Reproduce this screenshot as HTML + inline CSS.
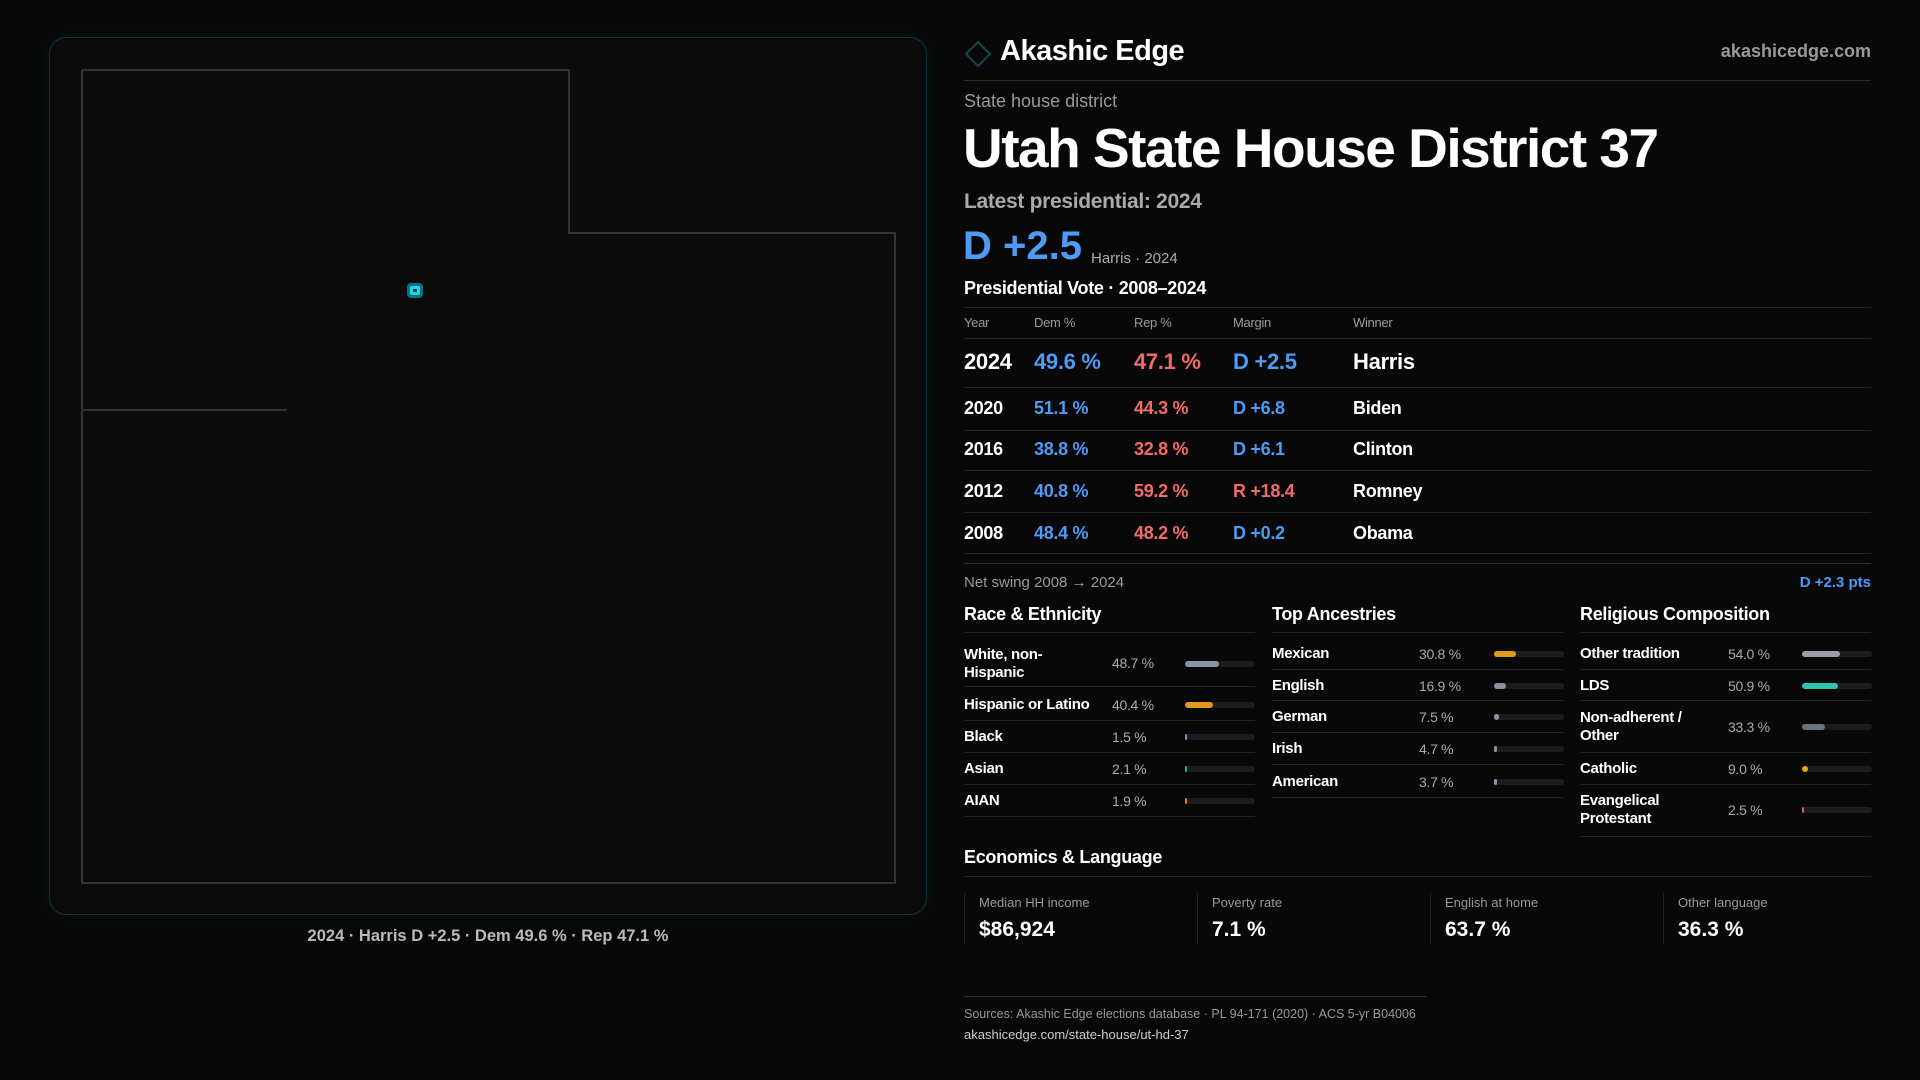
<!DOCTYPE html>
<html><head><meta charset="utf-8"><style>
*{margin:0;padding:0;box-sizing:border-box}
body{width:1920px;height:1080px;background:#080808;font-family:"Liberation Sans",sans-serif;color:#fff;position:relative;overflow:hidden}
.a{position:absolute;white-space:nowrap}
.card{position:absolute;left:49px;top:37px;width:878px;height:878px;border:1px solid #16343a;border-radius:17px;background:#0b0b0b;box-shadow:0 0 18px rgba(20,120,130,0.12)}
.hl{position:absolute;height:1px;background:#222}
.g{color:#9a9a9a}
.b{color:#4d9bf5}.r{color:#f26b6b}
.row{position:absolute;left:964px;width:907px;font-size:18px;font-weight:bold;letter-spacing:-0.3px}
.row span{position:absolute;top:0}
.lab{font-size:15px;font-weight:bold;letter-spacing:-0.3px;line-height:18px}
.val{font-size:14px;color:#aaa;letter-spacing:-0.3px}
.bar{position:absolute;height:6px;width:70px;background:#1c1c1c;border-radius:3px}
.bar i{position:absolute;left:0;top:0;height:6px;border-radius:3px;min-width:2px}
.sh{font-size:18px;font-weight:bold;letter-spacing:-0.3px}
.box{position:absolute;top:893px;height:51px;border-left:1px solid #222;padding-left:14px}
.box .l{font-size:13px;color:#999;margin-top:2px}
.box .v{font-size:21px;font-weight:bold;margin-top:8px}
</style></head><body>
<div class="card"></div>
<svg class="a" style="left:0;top:0" width="960" height="1000">
<polyline points="82,70 569,70 569,233 895,233 895,883 82,883 82,70" fill="none" stroke="#333" stroke-width="2"/>
<line x1="82" y1="410" x2="287" y2="410" stroke="#333" stroke-width="2"/>
<rect x="407" y="283" width="16" height="15" rx="4" fill="#0e6f80"/>
<rect x="410" y="286" width="10" height="9" rx="2" fill="#22d3ee"/>
<rect x="413" y="289" width="4" height="3" fill="#0b3b44"/>
</svg>
<div class="a" style="left:0;width:976px;text-align:center;top:927px;font-size:16.5px;color:#bbb;font-weight:bold">2024 · Harris D +2.5 · Dem 49.6 % · Rep 47.1 %</div>

<svg class="a" style="left:964px;top:40px" width="28" height="28"><polygon points="14,2 26,14 14,26 2,14" fill="none" stroke="#13464d" stroke-width="2"/></svg>
<div class="a" style="left:1000px;top:35px;font-size:29px;font-weight:bold;letter-spacing:-0.5px">Akashic Edge</div>
<div class="a g" style="right:49px;top:41px;font-size:18px;font-weight:bold">akashicedge.com</div>
<div class="hl" style="left:964px;width:907px;top:80px;background:#14353a"></div>
<div class="a g" style="left:964px;top:91px;font-size:18px">State house district</div>
<div class="a" style="left:963px;top:116px;font-size:55px;font-weight:bold;letter-spacing:-1.5px">Utah State House District 37</div>
<div class="a" style="left:964px;top:190px;font-size:21px;font-weight:bold;color:#aaa;letter-spacing:-0.3px">Latest presidential: 2024</div>
<div class="a b" style="left:963px;top:224px;font-size:40px;font-weight:bold">D +2.5</div>
<div class="a" style="left:1091px;top:250px;font-size:15px;color:#aaa">Harris · 2024</div>
<div class="a" style="left:964px;top:278px;font-size:18px;font-weight:bold;letter-spacing:-0.3px">Presidential Vote · 2008–2024</div>
<div class="hl" style="left:964px;width:907px;top:307px"></div>
<div class="row g" style="top:315px;font-size:13px;font-weight:normal"><span style="left:0">Year</span><span style="left:70px">Dem %</span><span style="left:170px">Rep %</span><span style="left:269px">Margin</span><span style="left:389px">Winner</span></div>
<div class="hl" style="left:964px;width:907px;top:338px"></div>
<div class="row" style="top:349px;font-size:22px"><span style="left:0">2024</span><span class="b" style="left:70px">49.6 %</span><span class="r" style="left:170px">47.1 %</span><span class="b" style="left:269px">D +2.5</span><span style="left:389px">Harris</span></div>
<div class="hl" style="left:964px;width:907px;top:387px"></div>
<div class="row" style="top:398px"><span style="left:0">2020</span><span class="b" style="left:70px">51.1 %</span><span class="r" style="left:170px">44.3 %</span><span class="b" style="left:269px">D +6.8</span><span style="left:389px">Biden</span></div>
<div class="hl" style="left:964px;width:907px;top:430px"></div>
<div class="row" style="top:439px"><span style="left:0">2016</span><span class="b" style="left:70px">38.8 %</span><span class="r" style="left:170px">32.8 %</span><span class="b" style="left:269px">D +6.1</span><span style="left:389px">Clinton</span></div>
<div class="hl" style="left:964px;width:907px;top:470px"></div>
<div class="row" style="top:481px"><span style="left:0">2012</span><span class="b" style="left:70px">40.8 %</span><span class="r" style="left:170px">59.2 %</span><span class="r" style="left:269px">R +18.4</span><span style="left:389px">Romney</span></div>
<div class="hl" style="left:964px;width:907px;top:512px"></div>
<div class="row" style="top:523px"><span style="left:0">2008</span><span class="b" style="left:70px">48.4 %</span><span class="r" style="left:170px">48.2 %</span><span class="b" style="left:269px">D +0.2</span><span style="left:389px">Obama</span></div>
<div class="hl" style="left:964px;width:907px;top:553px"></div>
<div class="hl" style="left:964px;width:907px;top:563px;background:#2a2a2a"></div>
<div class="a g" style="left:964px;top:574px;font-size:15px">Net swing 2008 → 2024</div>
<div class="a b" style="right:49px;top:574px;font-size:15px;font-weight:bold">D +2.3 pts</div>

<div class="a sh" style="left:964px;top:604px">Race &amp; Ethnicity</div>
<div class="a sh" style="left:1272px;top:604px">Top Ancestries</div>
<div class="a sh" style="left:1580px;top:604px">Religious Composition</div>
<div class="hl" style="left:964px;width:291px;top:632px"></div>
<div class="hl" style="left:1272px;width:291px;top:632px"></div>
<div class="hl" style="left:1580px;width:291px;top:632px"></div>

<div class="a lab" style="left:964px;top:646px">White, non-<br>Hispanic</div><div class="a val" style="left:1112px;top:655px">48.7 %</div><div class="bar" style="left:1185px;top:661px"><i style="width:34px;background:#8a93a6"></i></div>
<div class="hl" style="left:964px;width:291px;top:686px"></div>
<div class="a lab" style="left:964px;top:696px">Hispanic or Latino</div><div class="a val" style="left:1112px;top:697px">40.4 %</div><div class="bar" style="left:1185px;top:702px"><i style="width:28px;background:#e09a1a"></i></div>
<div class="hl" style="left:964px;width:291px;top:720px"></div>
<div class="a lab" style="left:964px;top:728px">Black</div><div class="a val" style="left:1112px;top:729px">1.5 %</div><div class="bar" style="left:1185px;top:734px"><i style="width:2px;background:#8b7fd6"></i></div>
<div class="hl" style="left:964px;width:291px;top:752px"></div>
<div class="a lab" style="left:964px;top:760px">Asian</div><div class="a val" style="left:1112px;top:761px">2.1 %</div><div class="bar" style="left:1185px;top:766px"><i style="width:2px;background:#2cb67d"></i></div>
<div class="hl" style="left:964px;width:291px;top:784px"></div>
<div class="a lab" style="left:964px;top:792px">AIAN</div><div class="a val" style="left:1112px;top:793px">1.9 %</div><div class="bar" style="left:1185px;top:798px"><i style="width:2px;background:#e07b2a"></i></div>
<div class="hl" style="left:964px;width:291px;top:816px"></div>

<div class="a lab" style="left:1272px;top:645px">Mexican</div><div class="a val" style="left:1419px;top:646px">30.8 %</div><div class="bar" style="left:1494px;top:651px"><i style="width:22px;background:#e09a1a"></i></div>
<div class="hl" style="left:1272px;width:291px;top:669px"></div>
<div class="a lab" style="left:1272px;top:677px">English</div><div class="a val" style="left:1419px;top:678px">16.9 %</div><div class="bar" style="left:1494px;top:683px"><i style="width:12px;background:#8a93a6"></i></div>
<div class="hl" style="left:1272px;width:291px;top:700px"></div>
<div class="a lab" style="left:1272px;top:708px">German</div><div class="a val" style="left:1419px;top:709px">7.5 %</div><div class="bar" style="left:1494px;top:714px"><i style="width:5px;background:#8a93a6"></i></div>
<div class="hl" style="left:1272px;width:291px;top:732px"></div>
<div class="a lab" style="left:1272px;top:740px">Irish</div><div class="a val" style="left:1419px;top:741px">4.7 %</div><div class="bar" style="left:1494px;top:746px"><i style="width:3px;background:#8a93a6"></i></div>
<div class="hl" style="left:1272px;width:291px;top:764px"></div>
<div class="a lab" style="left:1272px;top:773px">American</div><div class="a val" style="left:1419px;top:774px">3.7 %</div><div class="bar" style="left:1494px;top:779px"><i style="width:3px;background:#8a93a6"></i></div>
<div class="hl" style="left:1272px;width:291px;top:797px"></div>

<div class="a lab" style="left:1580px;top:645px">Other tradition</div><div class="a val" style="left:1728px;top:646px">54.0 %</div><div class="bar" style="left:1802px;top:651px"><i style="width:38px;background:#9aa0aa"></i></div>
<div class="hl" style="left:1580px;width:291px;top:669px"></div>
<div class="a lab" style="left:1580px;top:677px">LDS</div><div class="a val" style="left:1728px;top:678px">50.9 %</div><div class="bar" style="left:1802px;top:683px"><i style="width:36px;background:#2ec4b0"></i></div>
<div class="hl" style="left:1580px;width:291px;top:700px"></div>
<div class="a lab" style="left:1580px;top:709px">Non-adherent /<br>Other</div><div class="a val" style="left:1728px;top:719px">33.3 %</div><div class="bar" style="left:1802px;top:724px"><i style="width:23px;background:#6b7280"></i></div>
<div class="hl" style="left:1580px;width:291px;top:752px"></div>
<div class="a lab" style="left:1580px;top:760px">Catholic</div><div class="a val" style="left:1728px;top:761px">9.0 %</div><div class="bar" style="left:1802px;top:766px"><i style="width:6px;background:#e0a800"></i></div>
<div class="hl" style="left:1580px;width:291px;top:784px"></div>
<div class="a lab" style="left:1580px;top:792px">Evangelical<br>Protestant</div><div class="a val" style="left:1728px;top:802px">2.5 %</div><div class="bar" style="left:1802px;top:807px"><i style="width:2px;background:#e05a5a"></i></div>
<div class="hl" style="left:1580px;width:291px;top:836px"></div>

<div class="a sh" style="left:964px;top:847px">Economics &amp; Language</div>
<div class="hl" style="left:964px;width:907px;top:876px"></div>
<div class="box" style="left:964px"><div class="l">Median HH income</div><div class="v">$86,924</div></div>
<div class="box" style="left:1197px"><div class="l">Poverty rate</div><div class="v">7.1 %</div></div>
<div class="box" style="left:1430px"><div class="l">English at home</div><div class="v">63.7 %</div></div>
<div class="box" style="left:1663px"><div class="l">Other language</div><div class="v">36.3 %</div></div>

<div class="hl" style="left:964px;width:463px;top:996px;background:#14353a"></div>
<div class="a" style="left:964px;top:1007px;font-size:12.5px;color:#999">Sources: Akashic Edge elections database · PL 94-171 (2020) · ACS 5-yr B04006</div>
<div class="a" style="left:964px;top:1027px;font-size:13px;color:#ccc">akashicedge.com/state-house/ut-hd-37</div>
</body></html>
